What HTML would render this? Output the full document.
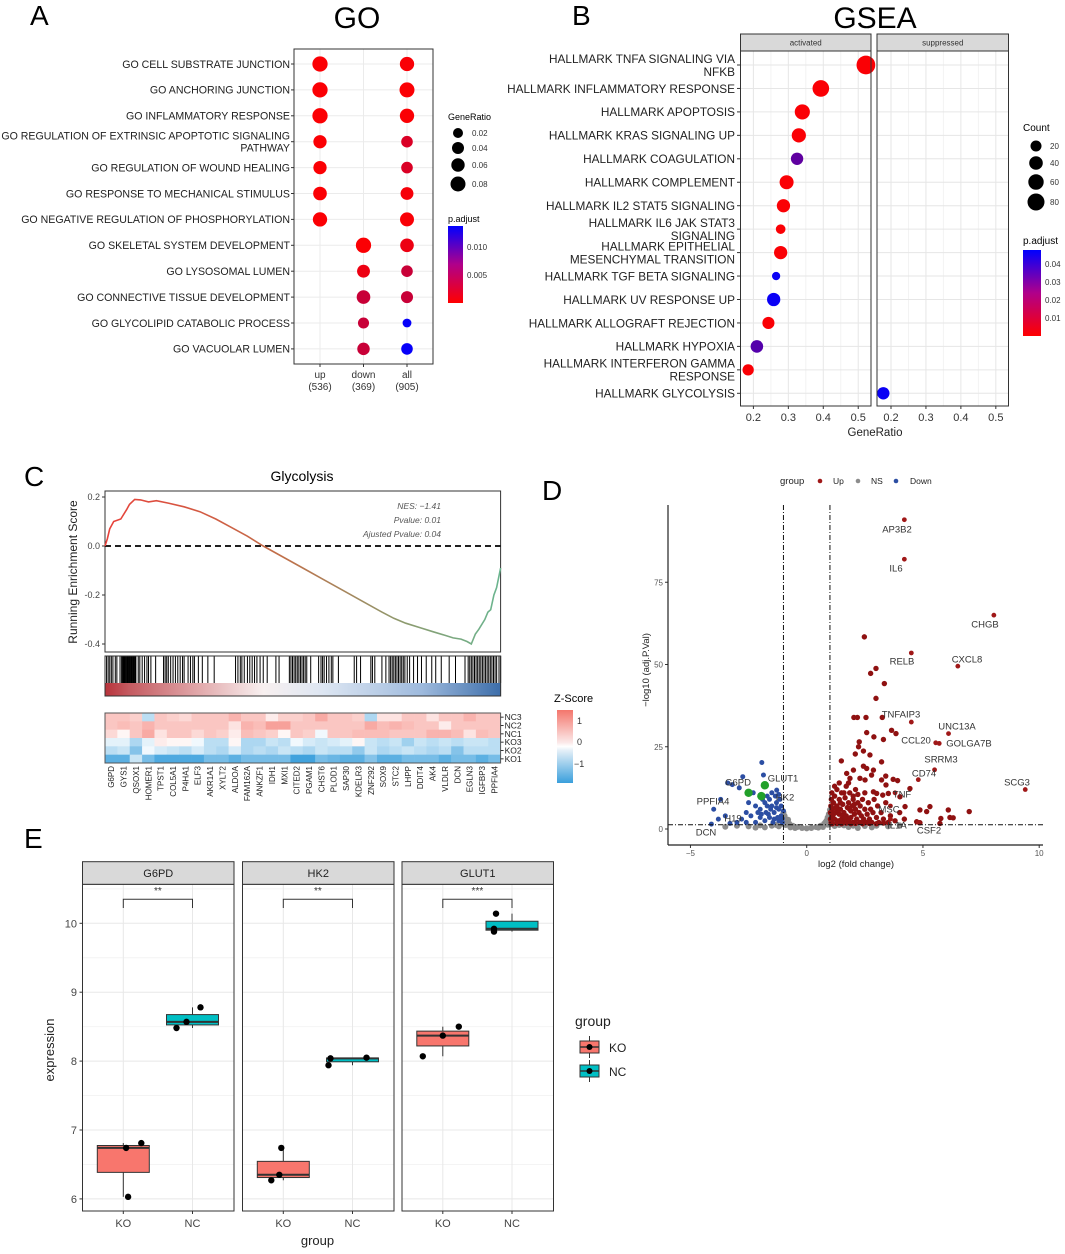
<!DOCTYPE html>
<html><head><meta charset="utf-8">
<style>
html,body{margin:0;padding:0;background:#fff;}
svg{display:block;font-family:"Liberation Sans",Arial,sans-serif;}
</style></head>
<body>
<svg id="fig" width="1065" height="1254" viewBox="0 0 1065 1254" xmlns="http://www.w3.org/2000/svg">
<defs>
<linearGradient id="gA" x1="0" y1="1" x2="0" y2="0"><stop offset="0" stop-color="#ff0000"/><stop offset="0.5" stop-color="#b0008a"/><stop offset="1" stop-color="#0000ff"/></linearGradient>
<linearGradient id="gEs" x1="0" y1="0" x2="1" y2="0"><stop offset="0" stop-color="#e8413a"/><stop offset="0.45" stop-color="#c0704a"/><stop offset="0.75" stop-color="#8e9a6e"/><stop offset="1" stop-color="#6ab58f"/></linearGradient>
<linearGradient id="gBand" x1="0" y1="0" x2="1" y2="0"><stop offset="0" stop-color="#b8333b"/><stop offset="0.06" stop-color="#c45a60"/><stop offset="0.25" stop-color="#e3aeb0"/><stop offset="0.4" stop-color="#f8f0f0"/><stop offset="0.55" stop-color="#dde6f2"/><stop offset="0.8" stop-color="#9ebadd"/><stop offset="1" stop-color="#3d6eaa"/></linearGradient>
<linearGradient id="gZ" x1="0" y1="0" x2="0" y2="1"><stop offset="0" stop-color="#f4766c"/><stop offset="0.45" stop-color="#fbeaea"/><stop offset="0.5" stop-color="#ffffff"/><stop offset="0.55" stop-color="#e6f0f8"/><stop offset="1" stop-color="#3a9fdc"/></linearGradient>
</defs>
<text x="30" y="25" font-size="28">A</text>
<text x="357" y="28" font-size="30" text-anchor="middle">GO</text>
<text x="572" y="25" font-size="28">B</text>
<text x="875" y="28" font-size="30" text-anchor="middle">GSEA</text>
<text x="24" y="486" font-size="28">C</text>
<text x="302" y="481" font-size="14" text-anchor="middle">Glycolysis</text>
<text x="542" y="500" font-size="28">D</text>
<text x="24" y="848" font-size="28">E</text>

<g font-size="8" fill="#333">
<text x="448" y="120" font-size="9" fill="#000">GeneRatio</text>
<circle cx="458" cy="133" r="5" fill="#000"/><text x="472" y="136">0.02</text>
<circle cx="458" cy="148" r="6" fill="#000"/><text x="472" y="151">0.04</text>
<circle cx="458" cy="165" r="6.7" fill="#000"/><text x="472" y="168">0.06</text>
<circle cx="458" cy="184" r="7.5" fill="#000"/><text x="472" y="187">0.08</text>
<text x="448" y="222" font-size="9" fill="#000">p.adjust</text>
<rect x="448" y="226" width="15" height="77" fill="url(#gA)"/>
<text x="467" y="250">0.010</text><text x="467" y="278">0.005</text>
</g>
<g font-size="8" fill="#333">
<text x="1023" y="131" font-size="10" fill="#000">Count</text>
<circle cx="1036" cy="146" r="5.5" fill="#000"/><text x="1050" y="149">20</text>
<circle cx="1036" cy="163" r="6.8" fill="#000"/><text x="1050" y="166">40</text>
<circle cx="1036" cy="182" r="7.7" fill="#000"/><text x="1050" y="185">60</text>
<circle cx="1036" cy="202" r="8.5" fill="#000"/><text x="1050" y="205">80</text>
<text x="1023" y="244" font-size="10" fill="#000">p.adjust</text>
<rect x="1023" y="250" width="18" height="86" fill="url(#gA)"/>
<text x="1045" y="267">0.04</text><text x="1045" y="285">0.03</text><text x="1045" y="303">0.02</text><text x="1045" y="321">0.01</text>
</g>
<g font-size="9" fill="#333">
<text x="554" y="702" font-size="11" fill="#000">Z-Score</text>
<rect x="557" y="710" width="16" height="73" fill="url(#gZ)"/>
<text x="577" y="724">1</text><text x="577" y="745">0</text><text x="574" y="767">−1</text>
</g>
<g font-size="8.5" fill="#222">
<text x="780" y="484" font-size="9.5">group</text>
<circle cx="820" cy="481" r="2.3" fill="#a01818"/><text x="833" y="484">Up</text>
<circle cx="858" cy="481" r="2.3" fill="#8c8c8c"/><text x="871" y="484">NS</text>
<circle cx="896" cy="481" r="2.3" fill="#2c4ea3"/><text x="910" y="484">Down</text>
</g>
<g font-size="12" fill="#222">
<text x="575" y="1026" font-size="14">group</text>
<line x1="589.5" y1="1036" x2="589.5" y2="1058" stroke="#333"/>
<rect x="580" y="1041" width="19" height="12" fill="#f8766d" stroke="#333"/>
<line x1="580" y1="1047" x2="599" y2="1047" stroke="#333" stroke-width="1.5"/>
<circle cx="589.5" cy="1047" r="3" fill="#000"/>
<text x="609" y="1052">KO</text>
<line x1="589.5" y1="1060" x2="589.5" y2="1082" stroke="#333"/>
<rect x="580" y="1065" width="19" height="12" fill="#00bfc4" stroke="#333"/>
<line x1="580" y1="1071" x2="599" y2="1071" stroke="#333" stroke-width="1.5"/>
<circle cx="589.5" cy="1071" r="3" fill="#000"/>
<text x="609" y="1076">NC</text>
</g>
</svg>
<script>
const goTerms = ["GO CELL SUBSTRATE JUNCTION","GO ANCHORING JUNCTION","GO INFLAMMATORY RESPONSE","GO REGULATION OF EXTRINSIC APOPTOTIC SIGNALING|PATHWAY","GO REGULATION OF WOUND HEALING","GO RESPONSE TO MECHANICAL STIMULUS","GO NEGATIVE REGULATION OF PHOSPHORYLATION","GO SKELETAL SYSTEM DEVELOPMENT","GO LYSOSOMAL LUMEN","GO CONNECTIVE TISSUE DEVELOPMENT","GO GLYCOLIPID CATABOLIC PROCESS","GO VACUOLAR LUMEN"];
const goGroups = ["up|(536)","down|(369)","all|(905)"];
const goRatioUp = [0.085,0.085,0.085,0.055,0.055,0.06,0.07,null,null,null,null,null];
const goRatioDown = [null,null,null,null,null,null,null,0.085,0.05,0.06,0.03,0.045];
const goRatioAll = [0.07,0.08,0.07,0.035,0.035,0.05,0.065,0.06,0.035,0.04,0.012,0.035];
const goPadjUp = [0.0002,0.0002,0.0002,0.0002,0.0002,0.0002,0.0002,null,null,null,null,null];
const goPadjDown = [null,null,null,null,null,null,null,0.0002,0.001,0.003,0.003,0.003];
const goPadjAll = [0.0003,0.0002,0.0002,0.002,0.002,0.0005,0.0003,0.001,0.003,0.003,0.0135,0.0135];
const gseaTerms = ["HALLMARK TNFA SIGNALING VIA|NFKB","HALLMARK INFLAMMATORY RESPONSE","HALLMARK APOPTOSIS","HALLMARK KRAS SIGNALING UP","HALLMARK COAGULATION","HALLMARK COMPLEMENT","HALLMARK IL2 STAT5 SIGNALING","HALLMARK IL6 JAK STAT3|SIGNALING","HALLMARK EPITHELIAL|MESENCHYMAL TRANSITION","HALLMARK TGF BETA SIGNALING","HALLMARK UV RESPONSE UP","HALLMARK ALLOGRAFT REJECTION","HALLMARK HYPOXIA","HALLMARK INTERFERON GAMMA|RESPONSE","HALLMARK GLYCOLYSIS"];
const gseaFacet = [0,0,0,0,0,0,0,0,0,0,0,0,0,0,1];
const gseaRatio = [0.522,0.393,0.34,0.33,0.325,0.295,0.286,0.278,0.278,0.265,0.258,0.243,0.21,0.185,0.178];
const gseaCount = [105,75,57,47,30,45,38,12,38,6,38,28,32,22,30];
const gseaPadj = [0.001,0.001,0.001,0.001,0.03,0.001,0.001,0.001,0.001,0.046,0.046,0.001,0.032,0.001,0.046];
const gseaTicks = [0.2,0.3,0.4,0.5];
const esRank = [0,6,12,22,40,55,62,75,90,110,130,160,200,240,280,320,360,400,450,500,550,600,650,700,730,760,800,830,860,880,900,915,926,936,945,960,968,975,983,990,1000];
const esValue = [0,0.03,0.07,0.1,0.11,0.15,0.17,0.19,0.188,0.18,0.185,0.175,0.16,0.14,0.11,0.075,0.04,0,-0.045,-0.09,-0.135,-0.18,-0.225,-0.27,-0.295,-0.315,-0.335,-0.35,-0.365,-0.375,-0.38,-0.39,-0.4,-0.36,-0.34,-0.3,-0.27,-0.26,-0.2,-0.17,-0.09];
const esTicks = [0.2,0,-0.2,-0.4];
const hitRanks = [0,4,8,12,16,20,26,30,38,42,44,46,48,50,52,54,56,58,60,62,64,66,68,70,72,74,76,78,84,88,94,100,106,110,116,128,148,152,156,160,166,172,178,184,190,196,200,210,216,222,226,236,246,260,276,330,336,342,346,352,360,366,372,378,384,392,400,410,432,440,466,470,474,478,482,486,490,494,498,502,506,510,520,540,546,550,554,560,566,572,576,590,630,636,646,672,676,682,700,710,718,722,726,730,734,738,742,746,750,754,758,764,770,780,790,800,812,826,836,850,870,886,910,918,922,926,930,934,938,942,946,950,954,958,962,966,970,974,978,982,986,990,996,1000];
const hmGenes = ["G6PD","GYS1","QSOX1","HOMER1","TPST1","COL5A1","P4HA1","ELF3","AKR1A1","XYLT2","ALDOA","FAM162A","ANKZF1","IDH1","MXI1","CITED2","PGAM1","CHST6","PLOD1","SAP30","KDELR3","ZNF292","SOX9","STC2","LHPP","DDIT4","AK4","VLDLR","DCN","EGLN3","IGFBP3","PPFIA4"];
const hmSamples = ["NC3","NC2","NC1","KO3","KO2","KO1"];
const hmNC3 = [0.6,0.6,0.5,-0.5,0.6,0.5,0.4,0.6,0.6,0.6,0.8,0.6,0.6,0.2,0.5,0.5,0.6,0.9,0.6,0.6,0.5,-0.6,0.3,0.3,0.6,0.6,0.3,0.6,0.6,0.8,0.6,0.6];
const hmNC2 = [0.6,0.7,0.6,0.8,0.6,0.6,0.6,0.6,0.6,0.6,0.3,0.8,0.7,1.0,1.0,0.6,0.6,0.6,0.6,0.6,0.6,0.9,0.7,0.8,0.7,0.6,0.6,0.2,0.6,0.6,0.6,0.6];
const hmNC1 = [0.4,0.1,0.6,0.9,0.3,0.6,0.6,0.4,0.6,0.5,0.2,0.7,0.6,0.5,0.1,0.6,0.5,-0.1,0.6,0.6,0.7,0.7,0.7,0.6,0.6,0.6,0.8,0.8,0.7,0.3,0.7,0.6];
const hmKO3 = [-0.2,-0.2,-0.6,-0.2,0.2,0.1,0.1,-0.1,-0.5,-0.5,0.1,-0.6,-0.6,-0.4,-0.5,-0.1,-0.3,-0.4,-0.3,-0.2,0.1,-0.4,-0.5,-0.4,-0.7,-0.4,-0.5,-0.4,-0.5,-0.4,-0.4,-0.5];
const hmKO2 = [-0.5,-0.4,-0.9,-0.1,-0.3,-0.4,-0.5,-0.3,-0.5,-0.6,-0.3,-0.6,-0.5,-0.6,-0.4,-0.5,-0.6,-0.4,-0.5,-0.5,-0.8,-0.4,-0.6,-0.5,-0.4,-0.5,-0.6,-0.5,-0.9,-0.5,-0.5,-0.5];
const hmKO1 = [-1.2,-1.2,-0.4,-1.0,-1.3,-1.3,-1.3,-1.3,-1.0,-1.0,-1.2,-1.0,-1.0,-1.0,-1.0,-1.4,-1.4,-1.0,-1.1,-1.2,-1.2,-0.9,-1.2,-1.2,-1.0,-1.0,-1.0,-1.2,-1.0,-1.0,-1.2,-1.0];
const upLabeled = [["AP3B2",4.2,94],["IL6",4.2,82],["CHGB",8.05,65],["RELB",4.5,53.5],["CXCL8",6.5,49.5],["SCG3",9.4,12],["UNC13A",6.1,29],["GOLGA7B",5.7,26],["CCL20",5.55,26.2],["SRRM3",5.5,18],["CD74",4.8,15],["TNFAIP3",4.5,32.5],["TNF",3.8,11],["MSC",3.6,7],["IL1A",3.6,3],["CSF2",4.8,2]];
const upPoints = [[2.48,58.4],[2.98,48.8],[2.75,47.3],[3.34,44.2],[2.98,39.7],[2.03,33.9],[2.18,33.9],[2.55,33.9],[3.25,33.9],[2.58,29.3],[2.89,28],[3.3,27.2],[3.65,30],[3.84,29],[2.26,26.5],[2.23,25],[2.44,23.7],[2.72,22.5],[2.09,22.8],[1.49,20.7],[3.22,20.4],[2.44,19.1],[2.58,18.4],[2.87,17.9],[2.01,17.9],[1.72,16.9],[1.86,15.4],[2.29,15.4],[2.51,14.9],[2.79,16.4],[3.4,16.1],[3.22,14.9],[3.72,15.1],[3.91,14.7],[3.41,13.4],[2.87,11.3],[3.01,10.8],[3.27,10.3],[3.51,10.8],[4.01,9.8],[4.23,6.8],[4.44,12.3],[4.87,5.8],[5.16,5.3],[5.3,6.8],[5.77,3.2],[6.09,5.8],[6.16,3.5],[6.3,3.4],[6.99,5.3],[4.73,2.2],[4.87,1.9],[5.73,1.7],
[1.05,2],[1.1,4],[1.1,6],[1.15,8],[1.2,3],[1.2,10],[1.25,5],[1.3,7],[1.3,12],[1.35,2.5],[1.4,4.5],[1.4,9],[1.45,6],[1.5,3],[1.5,11],[1.55,7.5],[1.6,2],[1.6,5],[1.65,9.5],[1.7,4],[1.7,13],[1.75,6.5],[1.8,2.5],[1.8,8],[1.85,11],[1.9,3.5],[1.9,5.5],[1.95,7],[2.0,2],[2.0,9],[2.05,4.5],[2.1,12],[2.1,6],[2.15,3],[2.2,8],[2.2,10.5],[2.25,5],[2.3,2],[2.3,7],[2.35,4],[2.4,9],[2.45,3],[2.5,6],[2.5,11],[2.55,2],[2.6,4.5],[2.65,8],[2.7,3],[2.75,6],[2.8,2],[2.85,5],[2.9,9],[3.0,3.5],[3.05,7],[3.1,2],[3.2,5],[3.3,3],[3.4,8],[3.5,2],[3.6,4],[3.8,2.5],[4.0,5],[4.2,3],[1.1,1.6],[1.3,1.7],[1.5,1.6],[1.7,1.8],[1.9,1.6],[2.1,1.7],[2.4,1.6],[2.7,1.7],[3.0,1.6],[3.3,1.8],[1.02,3],[1.02,5],[1.04,7],[1.06,9],[1.08,11],[1.2,13],[1.4,14],[1.6,11],[1.8,14],[2.0,10],[1.15,4.5],[1.35,5.8],[1.55,4],[1.75,3],[1.95,1.9],[1.25,6.5],[1.45,8],[1.65,3.5],[1.85,6],[2.05,7.5]];
const downPoints = [[-1.93,20.2],[-2.75,15.9],[-1.86,16.4],[-1.29,11.8],[-3.4,14],[-3.2,13.5],[-2.9,12.5],[-2.3,11],[-3.7,9],[-4.0,6],[-3.5,4],[-3.8,3],[-4.1,1.5],[-3.0,2],[-2.6,5],[-2.4,4],[-2.2,7],[-2.0,6],[-1.8,8],[-1.6,9],[-1.5,7],[-1.4,5],[-1.3,8],[-1.2,6],[-1.1,4],[-1.05,2],[-1.2,2.5],[-1.4,3],[-1.6,3.5],[-1.8,2.5],[-2.0,3.5],[-2.2,2],[-2.6,2],[-2.8,3],[-1.15,9],[-1.35,10],[-1.55,6],[-1.75,5],[-1.95,4.5],[-1.1,7],[-1.25,3.5],[-1.45,2],[-1.65,4.5],[-1.7,7],[-1.9,9],[-2.1,5],[-2.5,8],[-3.3,1.7],[-1.0,5.5],[-1.05,3.2],[-1.3,6.5],[-1.5,11],[-1.7,10],[-1.2,10.5]];
const highlight = [["G6PD",-2.5,11],["GLUT1",-1.8,13.3],["HK2",-1.95,10]];
const nsPoints = [[-1,5],[-0.95,4],[-0.9,3],[-0.85,2.2],[-0.75,1.6],[-0.6,1.0],[-0.4,0.6],[-0.2,0.3],[0,0.2],[0.2,0.3],[0.4,0.6],[0.6,1.0],[0.75,1.6],[0.85,2.5],[0.9,3.5],[0.95,4.5],[1.0,5.8],[0.98,3],[0.97,2],[-0.98,2.8],[-0.97,1.8],[-3,1],[-2.5,0.8],[-2,1.1],[-1.5,1.0],[-1.2,0.8],[1.2,0.9],[1.6,1.1],[2,1.0],[2.5,0.9],[3,1.0],[3.5,0.8],[4,1.1],[-3.5,0.7],[-1.8,0.5],[1.8,0.6],[2.8,0.5],[-0.5,0.3],[0.5,0.4],[-1.1,2.5],[1.1,2],[-0.9,1.2],[0.9,1.3],[-2.2,0.4],[2.2,0.3],[-0.7,0.5],[0.7,0.6],[-1.3,1.2],[1.4,1.2],[-0.8,2.8],[0.8,2],[-1,3.8],[1,4.2],[-1,1.5],[1,1.4]];
const volcanoLabels = [["AP3B2",897,529],["IL6",896,568],["CHGB",985,624],["RELB",902,661],["CXCL8",967,659],["TNFAIP3",901,714],["UNC13A",957,726],["CCL20",916,740],["GOLGA7B",969,743],["SRRM3",941,759],["CD74",924,773],["SCG3",1017,782],["TNF",902,794],["MSC",889,809],["IL1A",897,825],["CSF2",929,830],["G6PD",738,782],["GLUT1",783,778],["HK2",785,797],["PPFIA4",713,801],["H19",733,818],["DCN",706,832]];
const volXTicks = [-5,0,5,10];
const volYTicks = [0,25,50,75];
const boxGenes = ["G6PD","HK2","GLUT1"];
const boxStars = ["**","**","***"];
const koValues = [[6.03,6.74,6.81],[6.27,6.35,6.74],[8.07,8.37,8.5]];
const ncValues = [[8.48,8.57,8.78],[7.94,8.04,8.05],[9.88,9.92,10.14]];
const koJitter = [[0.12,0.07,0.45],[-0.3,-0.1,-0.05],[-0.5,0,0.4]];
const ncJitter = [[-0.4,-0.15,0.2],[-0.6,-0.55,0.35],[-0.45,-0.45,-0.4]];
const exprTicks = [6,7,8,9,10];

const NS = "http://www.w3.org/2000/svg";
const svg = document.getElementById('fig');
function mk(tag, attrs, parent){const e=document.createElementNS(NS,tag);for(const k in attrs)e.setAttribute(k,attrs[k]);(parent||svg).appendChild(e);return e;}
function tx(x,y,s,attrs,parent){const e=mk('text',Object.assign({x:x,y:y},attrs||{}),parent);e.textContent=s;return e;}
function padjColor(p,max){let t=Math.max(0,Math.min(1,p/max));const r=Math.round(255*(1-t)),g=0,b=Math.round(255*t);return `rgb(${r},${g},${b})`;}

(function(){
const g=mk('g',{});


const L=294,R=433,T=49,B=364;
const bg=mk('rect',{x:L,y:T,width:R-L,height:B-T,fill:'#fff'},g);


const colX=i=>320+i*43.5;
const rowY=j=>64+j*25.9;
goGroups.forEach((s,i)=>{mk('line',{x1:colX(i),x2:colX(i),y1:T,y2:B,stroke:'#ebebeb','stroke-width':1},g);});
goTerms.forEach((s,j)=>{mk('line',{x1:L,x2:R,y1:rowY(j),y2:rowY(j),stroke:'#ebebeb','stroke-width':1},g);});
const ratios=[goRatioUp,goRatioDown,goRatioAll], padjs=[goPadjUp,goPadjDown,goPadjAll];
ratios.forEach((arr,i)=>arr.forEach((v,j)=>{ if(v==null)return;
  const c=mk('circle',{cx:colX(i),cy:rowY(j),r:2.5+17.6*Math.sqrt(v),fill:padjColor(padjs[i][j],0.0138)},g);
  
  
}));
mk('rect',{x:L,y:T,width:R-L,height:B-T,fill:'none',stroke:'#333','stroke-width':1},g);
goTerms.forEach((s,j)=>{
  mk('line',{x1:L-3,x2:L,y1:rowY(j),y2:rowY(j),stroke:'#333'},g);
  const parts=s.split('|');
  parts.forEach((p,k)=>{
    const y=rowY(j)+3.8+(parts.length>1?(k===0?-6:6):0);
    const t=tx(290,y,p,{'font-size':10.6,'text-anchor':'end',fill:'#222'},g);
    
    
  });
});
goGroups.forEach((s,i)=>{
  mk('line',{x1:colX(i),x2:colX(i),y1:B,y2:B+3,stroke:'#333'},g);
  const p=s.split('|');
  const t1=tx(colX(i),378,p[0],{'font-size':10,'text-anchor':'middle',fill:'#333'},g);
  
  
  const t2=tx(colX(i),390,p[1],{'font-size':10,'text-anchor':'middle',fill:'#333'},g);
  
  
});
})();

(function(){
const g=mk('g',{});


const T=51,B=406,scale=349.4;
const panels=[{L:740.5,R:871,x0:753.4,name:'activated'},{L:877,R:1008.5,x0:891,name:'suppressed'}];
const rowY=j=>65+j*23.45;
panels.forEach((p,pi)=>{
  const xs=v=>p.x0+(v-0.2)*scale;
  mk('rect',{x:p.L,y:T,width:p.R-p.L,height:B-T,fill:'#fff'},g);
  [0.15,0.25,0.35,0.45,0.55].forEach(v=>{const x=xs(v);if(x>p.L&&x<p.R)mk('line',{x1:x,x2:x,y1:T,y2:B,stroke:'#f3f3f3'},g);});
  gseaTicks.forEach(v=>{mk('line',{x1:xs(v),x2:xs(v),y1:T,y2:B,stroke:'#e6e6e6'},g);});
  gseaTerms.forEach((s,j)=>mk('line',{x1:p.L,x2:p.R,y1:rowY(j),y2:rowY(j),stroke:'#e6e6e6'},g));
  gseaRatio.forEach((v,j)=>{ if(gseaFacet[j]!==pi)return;
    const c=mk('circle',{cx:xs(v),cy:rowY(j),r:2.5+0.671*Math.sqrt(gseaCount[j]),fill:padjColor(gseaPadj[j],0.0478)},g);
    
    
  });
  const st=mk('rect',{x:p.L,y:34,width:p.R-p.L,height:17,fill:'#d9d9d9',stroke:'#333'},g);
  
  
  tx((p.L+p.R)/2,45.5,p.name,{'font-size':8,'text-anchor':'middle',fill:'#333'},g);
  mk('rect',{x:p.L,y:T,width:p.R-p.L,height:B-T,fill:'none',stroke:'#333'},g);
  gseaTicks.forEach(v=>{
    mk('line',{x1:xs(v),x2:xs(v),y1:B,y2:B+3,stroke:'#333'},g);
    const t=tx(xs(v),421,String(v),{'font-size':11,'text-anchor':'middle',fill:'#333'},g);
    
    
  });
});
gseaTerms.forEach((s,j)=>{
  mk('line',{x1:737,x2:740.5,y1:rowY(j),y2:rowY(j),stroke:'#333'},g);
  const parts=s.split('|');
  parts.forEach((p,k)=>{
    const y=rowY(j)+4.3+(parts.length>1?(k===0?-6.5:6.5):0);
    const t=tx(735,y,p,{'font-size':11.8,'text-anchor':'end',fill:'#222'},g);
    
    
  });
});
const xt=tx(875,436,'GeneRatio',{'font-size':11.5,'text-anchor':'middle',fill:'#222'},g);


})();

(function(){
const g=mk('g',{});


const L=105,R=500.6,T=491,B=652;
const xs=r=>L+r/1000*(R-L);
const ys=v=>546-245*v;
mk('rect',{x:L,y:T,width:R-L,height:B-T,fill:'#fff',stroke:'#333'},g);
esTicks.forEach(v=>{
  mk('line',{x1:L-3,x2:L,y1:ys(v),y2:ys(v),stroke:'#333'},g);
  const t=tx(L-5,ys(v)+3,v===0?'0.0':String(v),{'font-size':9,'text-anchor':'end',fill:'#444'},g);
  
  
});
const zl=mk('line',{x1:L,x2:R,y1:ys(0),y2:ys(0),stroke:'#000','stroke-width':1.8,'stroke-dasharray':'6,4'},g);


let d='';esRank.forEach((r,i)=>{d+=(i?'L':'M')+xs(r).toFixed(1)+','+ys(esValue[i]).toFixed(1);});
const path=mk('path',{d:d,fill:'none',stroke:'url(#gEs)','stroke-width':1.6},g);


['NES: −1.41','Pvalue: 0.01','Ajusted Pvalue: 0.04'].forEach((s,i)=>{
  const t=tx(441,509+i*14,s,{'font-size':8.5,'font-style':'italic','text-anchor':'end',fill:'#555'},g);
  
  
});
const yt=tx(0,0,'Running Enrichment Score',{'font-size':12,'text-anchor':'middle',fill:'#222',transform:'translate(77,572) rotate(-90)'},g);


const bT=656,bB=696;
mk('rect',{x:L,y:bT,width:R-L,height:bB-bT,fill:'#fff',stroke:'#333'},g);
const band=mk('rect',{x:L,y:683,width:R-L,height:13,fill:'url(#gBand)'},g);


hitRanks.forEach(r=>{
  const l=mk('line',{x1:xs(r),x2:xs(r),y1:bT,y2:683,stroke:'#000','stroke-width':1},g);
  
  
});
mk('rect',{x:L,y:bT,width:R-L,height:bB-bT,fill:'none',stroke:'#333'},g);
const hT=713,hB=763,cw=(R-L)/hmGenes.length,rh=(hB-hT)/hmSamples.length;
const rows=[hmNC3,hmNC2,hmNC1,hmKO3,hmKO2,hmKO1];
function zc(z){const t=Math.min(1,Math.abs(z)/1.45);const c=z>=0?[244,118,108]:[58,159,220];return `rgb(${Math.round(255+(c[0]-255)*t)},${Math.round(255+(c[1]-255)*t)},${Math.round(255+(c[2]-255)*t)})`;}
rows.forEach((row,ri)=>row.forEach((z,ci)=>{
  const r=mk('rect',{x:L+ci*cw,y:hT+ri*rh,width:cw+0.3,height:rh+0.3,fill:zc(z)},g);
  
  
}));
mk('rect',{x:L,y:hT,width:R-L,height:hB-hT,fill:'none',stroke:'#555'},g);
hmSamples.forEach((s,ri)=>{
  mk('line',{x1:R,x2:R+3,y1:hT+(ri+0.5)*rh,y2:hT+(ri+0.5)*rh,stroke:'#333'},g);
  const t=tx(R+4,hT+(ri+0.5)*rh+3,s,{'font-size':8.5,fill:'#222'},g);
  
  
});
hmGenes.forEach((s,ci)=>{
  const x=L+(ci+0.5)*cw;
  const t=tx(0,0,s,{'font-size':8,'text-anchor':'end',fill:'#222',transform:`translate(${x+3},${766}) rotate(-90)`},g);
  
  
});
})();

(function(){
const g=mk('g',{});


const L=668,R=1043,T=505,B=845;
const xs=v=>806.7+23.25*v;
const ys=v=>829-3.29*v;
volXTicks.forEach(v=>{
  mk('line',{x1:xs(v),x2:xs(v),y1:B,y2:B+3,stroke:'#333'},g);
  const t=tx(xs(v),856,v<0?'−'+Math.abs(v):String(v),{'font-size':8,'text-anchor':'middle',fill:'#555'},g);
  
  
});
volYTicks.forEach(v=>{
  mk('line',{x1:L-3,x2:L,y1:ys(v),y2:ys(v),stroke:'#333'},g);
  const t=tx(L-5,ys(v)+3,String(v),{'font-size':8,'text-anchor':'end',fill:'#555'},g);
  
  
});
nsPoints.forEach(p=>{const c=mk('circle',{cx:xs(p[0]),cy:ys(p[1]),r:3,fill:'#8c8c8c'},g);
  
  });
upPoints.forEach(p=>{const c=mk('circle',{cx:xs(p[0]),cy:ys(p[1]),r:2.7,fill:'#8f1111'},g);
  
  });
upLabeled.forEach(p=>{const c=mk('circle',{cx:xs(p[1]),cy:ys(p[2]),r:2.4,fill:'#a01818'},g);
  
  });
downPoints.forEach(p=>{const c=mk('circle',{cx:xs(p[0]),cy:ys(p[1]),r:2.5,fill:'#2c4ea3'},g);
  
  });
highlight.forEach(p=>{const c=mk('circle',{cx:xs(p[1]),cy:ys(p[2]),r:4.2,fill:'#22a02a'},g);
  
  });
[-1,1].forEach(v=>{const l=mk('line',{x1:xs(v),x2:xs(v),y1:T,y2:B,stroke:'#111','stroke-width':1,'stroke-dasharray':'5,2,1,2'},g);
  
  });
const hl=mk('line',{x1:L,x2:R,y1:ys(1.3),y2:ys(1.3),stroke:'#111','stroke-width':1,'stroke-dasharray':'5,2,1,2'},g);


volcanoLabels.forEach(l=>{const t=tx(l[1],l[2]+3.5,l[0],{'font-size':9.5,'text-anchor':'middle',fill:'#333'},g);
  
  });
mk('line',{x1:L,x2:L,y1:T,y2:B,stroke:'#222','stroke-width':1.2},g);
mk('line',{x1:L,x2:R,y1:B,y2:B,stroke:'#222','stroke-width':1.2},g);
const xt=tx(856,867,'log2 (fold change)',{'font-size':9.5,'text-anchor':'middle',fill:'#222'},g);


const yt=tx(0,0,'−log10 (adj.P.Val)',{'font-size':9.5,'text-anchor':'middle',fill:'#222',transform:'translate(649,670) rotate(-90)'},g);


})();

(function(){
const g=mk('g',{});


const T=884.3,B=1211;
const ys=v=>923.3-68.9*(v-10);
const lefts=[82.5,242.5,402],W=151.5;
function q(a){const s=a.slice().sort((x,y)=>x-y);return [s[0],(s[0]+s[1])/2,s[1],(s[1]+s[2])/2,s[2]];}
boxGenes.forEach((gn,i)=>{
  const L=lefts[i],R=L+W,kx=L+40.8,nx=L+110;
  mk('rect',{x:L,y:T,width:W,height:B-T,fill:'#fff'},g);
  [6.5,7.5,8.5,9.5,10.5].forEach(v=>mk('line',{x1:L,x2:R,y1:ys(v),y2:ys(v),stroke:'#f4f4f4'},g));
  exprTicks.forEach(v=>mk('line',{x1:L,x2:R,y1:ys(v),y2:ys(v),stroke:'#e8e8e8'},g));
  [kx,nx].forEach(x=>mk('line',{x1:x,x2:x,y1:T,y2:B,stroke:'#e8e8e8'},g));
  [[koValues[i],kx,'#f8766d',koJitter[i],'ko'],[ncValues[i],nx,'#00bfc4',ncJitter[i],'nc']].forEach(d=>{
    const s=q(d[0]),x=d[1];
    mk('line',{x1:x,x2:x,y1:ys(s[0]),y2:ys(s[4]),stroke:'#333'},g);
    const b=mk('rect',{x:x-26,y:ys(s[3]),width:52,height:ys(s[1])-ys(s[3]),fill:d[2],stroke:'#333'},g);
    
    
    mk('line',{x1:x-26,x2:x+26,y1:ys(s[2]),y2:ys(s[2]),stroke:'#333','stroke-width':2},g);
    d[0].forEach((v,k)=>{const c=mk('circle',{cx:x+d[3][k]*40,cy:ys(v),r:3.2,fill:'#000'},g);
      
      });
  });
  mk('path',{d:`M${kx},908 V899.3 H${nx} V908`,fill:'none',stroke:'#333'},g);
  const st=tx((kx+nx)/2,894,boxStars[i],{'font-size':10,'text-anchor':'middle',fill:'#333'},g);
  
  
  mk('rect',{x:L,y:T,width:W,height:B-T,fill:'none',stroke:'#333'},g);
  const sr=mk('rect',{x:L,y:861.7,width:W,height:22.6,fill:'#d9d9d9',stroke:'#333'},g);
  
  
  tx(L+W/2,877,gn,{'font-size':11,'text-anchor':'middle',fill:'#222'},g);
  [['KO',kx],['NC',nx]].forEach(a=>{
    mk('line',{x1:a[1],x2:a[1],y1:B,y2:B+3,stroke:'#333'},g);
    const t=tx(a[1],1227,a[0],{'font-size':11,'text-anchor':'middle',fill:'#444'},g);
    
    
  });
});
exprTicks.forEach(v=>{
  mk('line',{x1:79.5,x2:82.5,y1:ys(v),y2:ys(v),stroke:'#333'},g);
  const t=tx(77,ys(v)+4,String(v),{'font-size':11,'text-anchor':'end',fill:'#444'},g);
  
  
});
const xt=tx(317.5,1245,'group',{'font-size':13,'text-anchor':'middle',fill:'#222'},g);


const yt=tx(0,0,'expression',{'font-size':13,'text-anchor':'middle',fill:'#222',transform:'translate(54,1050) rotate(-90)'},g);


})();
</script>
</body></html>
